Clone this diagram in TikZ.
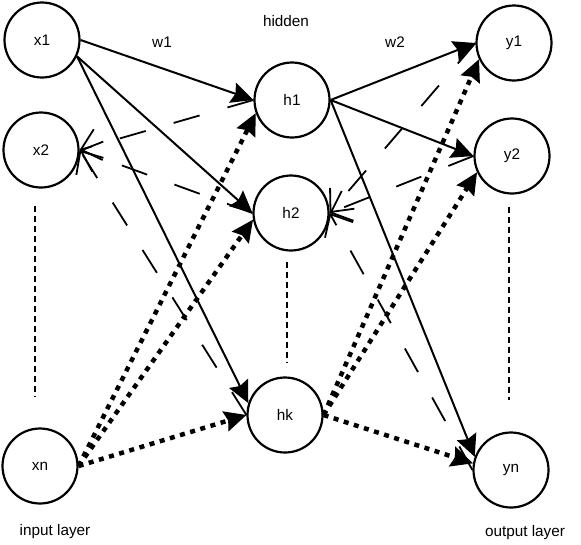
\documentclass[tikz,border=0pt]{standalone}
\usepackage{fontspec}
\setmainfont{Liberation Sans}
\usetikzlibrary{arrows.meta}

\begin{document}
\begin{tikzpicture}[x=1pt, y=-1pt, font=\fontsize{15.3}{18}\selectfont,
    neurone/.style={draw, circle, line width=2.2pt, minimum size=75pt, inner sep=0pt},
    plein/.style={line width=2pt,
      -{Stealth[length=22pt, width=21pt, inset=3pt, line width=1.2pt]}},
    pointille/.style={line width=4.5pt, dash pattern=on 5pt off 5.6pt,
      -{Stealth[length=22pt, width=21pt, inset=3pt, line width=1.2pt]}},
    tiret/.style={line width=1.8pt, dash pattern=on 27pt off 29pt,
      -{Straight Barb[length=18pt, width=32pt]}},
    etc/.style={line width=1.8pt, dash pattern=on 6pt off 4pt}]
  \useasboundingbox (0,0) rectangle (581,544);

  % couche d'entree
  \node[neurone] (x1) at (42,40) {x1};
  \node[neurone] (x2) at (41,150) {x2};
  \node[neurone] (xn) at (40,466) {xn};
  % couche cachee
  \node[neurone] (h1) at (292,100) {h1};
  \node[neurone] (h2) at (291,213) {h2};
  \node[neurone] (hk) at (285,415) {hk};
  % couche de sortie
  \node[neurone] (y1) at (514,43) {y1};
  \node[neurone] (y2) at (512,156) {y2};
  \node[neurone] (yn) at (511,470) {yn};

  % points de suspension verticaux
  \draw[etc] ([xshift=-6pt, yshift=-17pt]x2.south) -- ([xshift=-5pt, yshift=31pt]xn.north);
  \draw[etc] ([xshift=-4pt, yshift=-10pt]h2.south) -- ([xshift=2pt, yshift=13pt]hk.north);
  \draw[etc] ([xshift=-3pt, yshift=-12pt]y2.south) -- ([xshift=-2pt, yshift=31pt]yn.north);

  % poids w1 : x1 vers la couche cachee
  \draw[plein] (x1.east) -- (h1.west);
  \draw[plein] (x1.-25) -- (h2.west);
  \draw[plein] (x1.-25) -- (hk.162);
  % retour vers x2
  \draw[tiret] (h1.west) -- (x2.east);
  \draw[tiret] (h2.west) -- (x2.east);
  \draw[tiret] (hk.west) -- (x2.east);
  % depuis xn
  \draw[pointille] (xn.east) -- (h1.200);
  \draw[pointille] (xn.east) -- (h2.190);
  \draw[pointille] (xn.east) -- (hk.west);

  % poids w2 : h1 vers la sortie
  \draw[plein] (h1.east) -- (y1.west);
  \draw[plein] (h1.east) -- (y2.west);
  \draw[plein] (h1.east) -- (yn.160);
  % retour vers h2
  \draw[tiret] (y1.west) -- (h2.east);
  \draw[tiret] (y2.west) -- (h2.east);
  \draw[tiret] (yn.west) -- (h2.east);
  % depuis hk
  \draw[pointille] (hk.east) -- (y1.205);
  \draw[pointille] (hk.east) -- (y2.205);
  \draw[pointille] (hk.east) -- (yn.170);

  % etiquettes
  \node (w1) at (162,42) {w1};
  \node (hidden) at (286,21) {hidden};
  \node (w2) at (395,42) {w2};
  \node (input) at (55,532) {input layer};
  \node (output) at (525,533) {output layer};
\end{tikzpicture}
\end{document}
